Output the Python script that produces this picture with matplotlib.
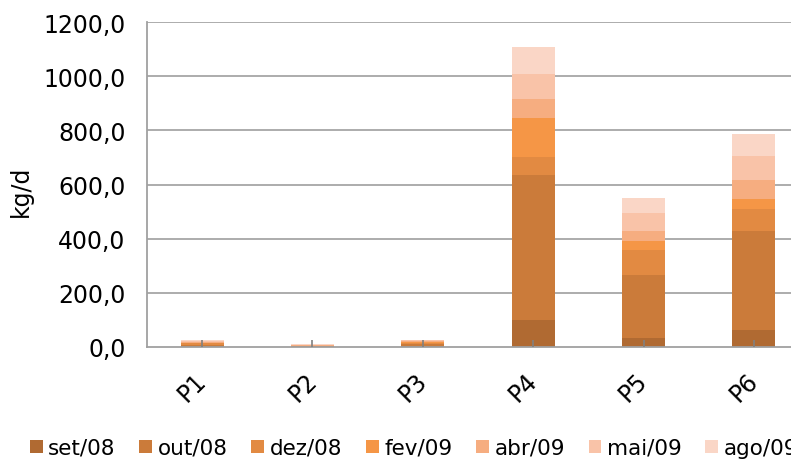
import matplotlib.pyplot as plt
import matplotlib.transforms as mtransforms
import numpy as np
from matplotlib.ticker import FuncFormatter

# Load per sampling point (kg/d), one list per campaign
points = ['P1', 'P2', 'P3', 'P4', 'P5', 'P6']
campaigns = ['set/08', 'out/08', 'dez/08', 'fev/09', 'abr/09', 'mai/09', 'ago/09']
set_08 = [2, 0, 2, 100, 33, 62]
out_08 = [6, 1, 7, 537, 234, 366]
dez_08 = [4, 1, 4, 63, 91, 82]
fev_09 = [3, 1, 3, 147, 33, 37]
abr_09 = [4, 2, 4, 70, 37, 70]
mai_09 = [3, 3, 3, 92, 68, 90]
ago_09 = [2, 2, 2, 98, 55, 81]

series = [set_08, out_08, dez_08, fev_09, abr_09, mai_09, ago_09]
colors = ['#B06A32', '#CB7B3A', '#E28A42', '#F59646', '#F6AD80', '#F9C3A8', '#FAD6C6']

fig = plt.figure(figsize=(7.91, 4.60), dpi=100)
ax = fig.add_axes([0.1858, 0.2441, 0.837, 0.7052])

x = np.arange(len(points))
bottom = np.zeros(len(points))
for name, vals, col in zip(campaigns, series, colors):
    ax.bar(x, vals, width=0.39, bottom=bottom, color=col, label=name, zorder=2)
    bottom += np.array(vals)

ax.set_xlim(-0.5, len(points) - 0.5)
ax.set_ylim(0, 1200)
yt = np.arange(0, 1201, 200)
ax.set_yticks(yt)
ax.yaxis.set_major_formatter(FuncFormatter(lambda v, p: f'{v:.1f}'.replace('.', ',')))
# gridlines behind the bars, tick marks in front of them
for v in yt[1:]:
    ax.axhline(v, color='#A6A6A6', lw=1.3, zorder=0.5)
ax.set_axisbelow(False)

ax.set_xticks(x)
ax.set_xticklabels(points, rotation=45, ha='right', va='top', rotation_mode='anchor')
ax.tick_params(axis='x', direction='in', length=5, color='#808080', width=1.2,
               pad=15, labelsize=17)
ax.tick_params(axis='y', length=0, pad=15.5, labelsize=17)

# nudge the slanted category labels a little to the left
shift = mtransforms.ScaledTranslation(-8 / 100, 0, fig.dpi_scale_trans)
for lbl in ax.get_xticklabels():
    lbl.set_transform(lbl.get_transform() + shift)

for s in ['top', 'right']:
    ax.spines[s].set_visible(False)
for s in ['left', 'bottom']:
    ax.spines[s].set_color('#A0A0A0')
    ax.spines[s].set_linewidth(1.3)

fig.text(21 / 791, 1 - 191 / 460, 'kg/d', rotation=90, fontsize=17, ha='center', va='center')

ax.legend(loc='center left', bbox_to_anchor=(30 / 791, 1 - 449 / 460),
          bbox_transform=fig.transFigure, ncol=7, frameon=False, fontsize=15.5,
          handlelength=0.6, handleheight=0.55, handletextpad=0.25,
          columnspacing=1.1, borderaxespad=0, borderpad=0)

fig.savefig('out.png', dpi=100)
